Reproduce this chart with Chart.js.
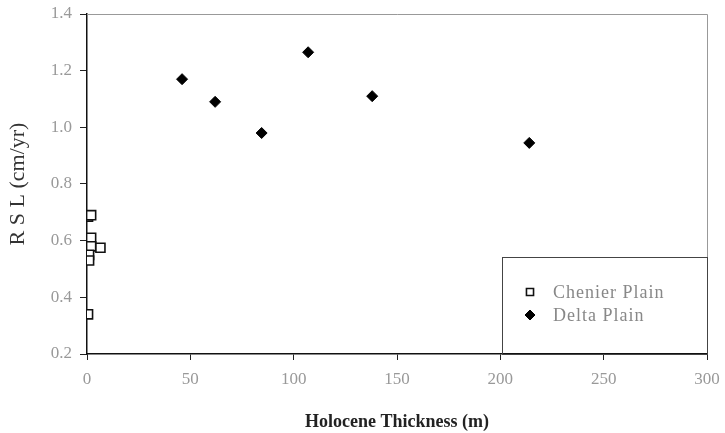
<!DOCTYPE html>
<html>
<head>
<meta charset="utf-8">
<script src="https://cdn.jsdelivr.net/npm/chart.js@4/dist/chart.umd.min.js"></script>
<style>
  html, body { margin: 0; padding: 0; background: #fff; }
  #wrap { width: 725px; height: 433px; }
</style>
</head>
<body>
<div id="wrap"><canvas id="rslChart"></canvas></div>
<script>
// Data
var chenierX = [0.5, 2, 2, 2, 6.5, 1, 1, 0.5];
var chenierY = [0.685, 0.69, 0.61, 0.58, 0.575, 0.55, 0.53, 0.34];
var deltaX = [46, 62, 84.5, 107, 138, 214];
var deltaY = [1.17, 1.09, 0.98, 1.265, 1.11, 0.945];
var seriesNames = ['Chenier Plain', 'Delta Plain'];
var xTicks = [0, 50, 100, 150, 200, 250, 300];
var yTicks = [0.2, 0.4, 0.6, 0.8, 1.0, 1.2, 1.4];

function toPoints(xs, ys) {
    return xs.map(function (x, i) { return { x: x, y: ys[i] }; });
}

var serif = "'Liberation Serif', 'DejaVu Serif', serif";

// frame: gray top/right border + boxed legend in the lower right corner
var framePlugin = {
    id: 'frame',
    afterDatasetsDraw: function (chart) {
        var ctx = chart.ctx;
        var a = chart.chartArea;
        ctx.save();
        ctx.strokeStyle = '#999';
        ctx.lineWidth = 1;
        ctx.beginPath();
        ctx.moveTo(a.left, a.top + 0.5);
        ctx.lineTo(a.right + 0.5, a.top + 0.5);
        ctx.lineTo(a.right + 0.5, a.bottom);
        ctx.stroke();

        // legend box
        var bx = a.right - 205, by = a.bottom - 97;
        ctx.strokeStyle = '#444';
        ctx.strokeRect(bx + 0.5, by + 0.5, 205, 97);

        ctx.font = '18px ' + serif;
        ctx.letterSpacing = '1px';
        ctx.textBaseline = 'middle';
        ctx.fillStyle = '#888';
        chart.data.datasets.forEach(function (ds, i) {
            var cy = by + 35 + i * 23;
            ctx.save();
            ctx.strokeStyle = ds.borderColor;
            ctx.fillStyle = ds.backgroundColor;
            ctx.lineWidth = ds.borderWidth;
            Chart.helpers.drawPoint(ctx, {
                pointStyle: ds.pointStyle,
                radius: 5,
                borderWidth: ds.borderWidth,
                rotation: 0
            }, bx + 28, cy);
            ctx.restore();
            ctx.fillText(ds.label, bx + 51, cy + 1);
        });
        ctx.restore();
    }
};

var ctx = document.getElementById('rslChart').getContext('2d');
var rslChart = new Chart(ctx, {
    type: 'scatter',
    data: {
        datasets: [{
            label: seriesNames[0],
            data: toPoints(chenierX, chenierY),
            pointStyle: 'rect',
            pointRadius: 6.4,
            pointHoverRadius: 6.4,
            backgroundColor: '#fff',
            borderColor: '#111',
            borderWidth: 1.6
        }, {
            label: seriesNames[1],
            data: toPoints(deltaX, deltaY),
            pointStyle: 'rectRot',
            pointRadius: 5.5,
            pointHoverRadius: 5.5,
            backgroundColor: '#000',
            borderColor: '#000',
            borderWidth: 1
        }]
    },
    options: {
        responsive: true,
        maintainAspectRatio: false,
        animation: false,
        layout: { padding: { left: 0, right: 18, top: 14, bottom: 0 } },
        plugins: {
            legend: { display: false },
            tooltip: { enabled: false }
        },
        scales: {
            x: {
                type: 'linear',
                min: 0,
                max: 300,
                afterBuildTicks: function (scale) {
                    scale.ticks = xTicks.map(function (v) { return { value: v }; });
                },
                afterFit: function (scale) {
                    scale.height = 79;
                    scale.paddingLeft = 0;
                    scale.paddingRight = 0;
                },
                grid: {
                    display: true,
                    drawOnChartArea: false,
                    drawTicks: true,
                    tickLength: 6,
                    color: '#222'
                },
                border: { display: true, color: '#111', width: 1.5 },
                ticks: {
                    color: '#999',
                    padding: 9,
                    font: { family: serif, size: 17 },
                    maxRotation: 0,
                    callback: function (v) { return String(v); }
                },
                title: {
                    display: true,
                    text: 'Holocene Thickness (m)',
                    color: '#222',
                    font: { family: serif, size: 18, weight: 'bold' },
                    padding: { top: 8, bottom: 0 }
                }
            },
            y: {
                type: 'linear',
                min: 0.2,
                max: 1.4,
                afterBuildTicks: function (scale) {
                    scale.ticks = yTicks.map(function (v) { return { value: v }; });
                },
                afterFit: function (scale) {
                    scale.width = 87;
                    scale.paddingTop = 0;
                    scale.paddingBottom = 0;
                },
                grid: {
                    display: true,
                    drawOnChartArea: false,
                    drawTicks: true,
                    tickLength: 7,
                    color: '#222'
                },
                border: { display: true, color: '#111', width: 1.5 },
                ticks: {
                    color: '#999',
                    padding: 8,
                    font: { family: serif, size: 17 },
                    callback: function (v) { return v.toFixed(1); }
                },
                title: {
                    display: true,
                    text: 'R S L (cm/yr)',
                    color: '#333',
                    font: { family: serif, size: 22 },
                    padding: { top: 5, bottom: 0 }
                }
            }
        }
    },
    plugins: [framePlugin]
});
</script>
</body>
</html>
